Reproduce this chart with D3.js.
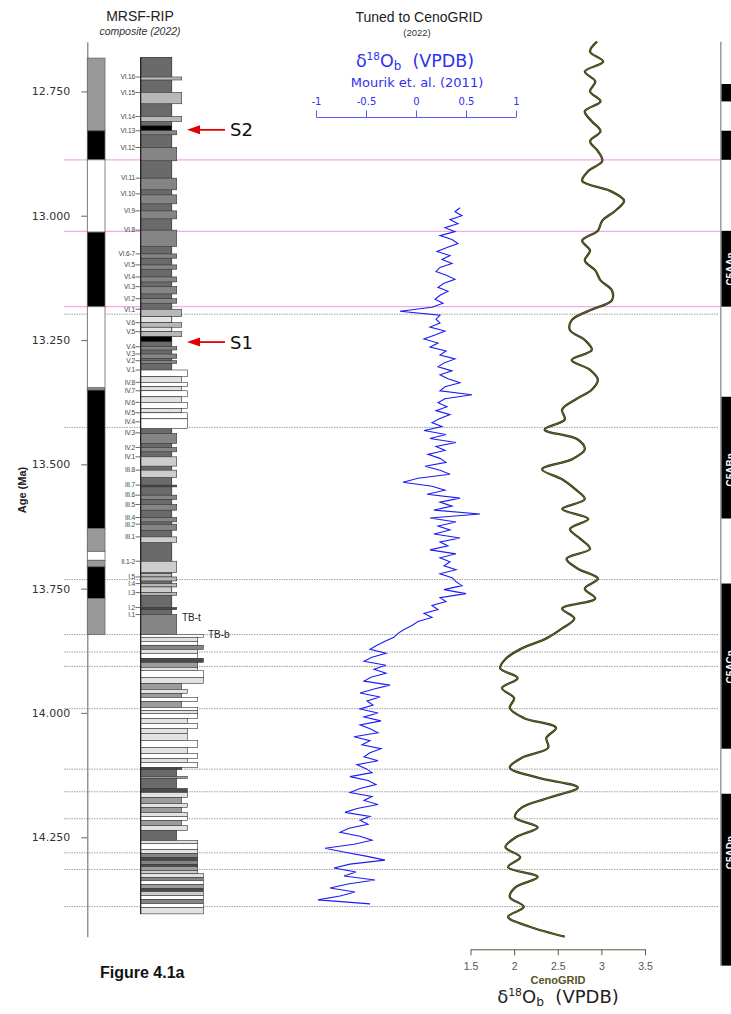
<!DOCTYPE html>
<html><head><meta charset="utf-8">
<script src="https://cdn.jsdelivr.net/npm/d3@7"></script>
<style>
body{margin:0;background:#fff}
svg{display:block}
text{font-family:"DejaVu Sans",sans-serif}
</style>
</head><body>
<svg id="chart" width="731" height="1014"></svg>
<script>
// ---------------- data ----------------
// Age axis ticks (Ma)
const ageMajorTicks = [12.75, 13.0, 13.25, 13.5, 13.75, 14.0, 14.25];

// MRSF-RIP composite magnetostratigraphy: [top, base, polarity] (n normal, r reversed, u uncertain)
const polarityZones = [
  [12.683, 12.8291, 'u'], [12.8291, 12.8875, 'n'], [12.8875, 13.0330, 'r'],
  [13.0330, 13.1830, 'n'], [13.1830, 13.3460, 'r'], [13.3460, 13.3506, 'u'],
  [13.3506, 13.6290, 'n'], [13.6290, 13.6750, 'u'], [13.6750, 13.6930, 'r'],
  [13.6930, 13.7060, 'u'], [13.7060, 13.7700, 'n'], [13.7700, 13.8424, 'u']
];

// Lithological log: marly background of the cyclic interval
const logBackground = [12.6816, 13.8424];
// Beds: [top, base, lithology code, weathering-profile class]
const beds = [
  [12.7210, 12.7270, 'L', 2], [12.7520, 12.7748, 'L', 2], [12.8003, 12.8104, 'L', 2],
  [12.8191, 12.8285, 'S', 0], [12.8291, 12.8372, 'G', 1], [12.8627, 12.8895, 'G', 1],
  [12.9244, 12.9479, 'G', 1], [12.9580, 12.9761, 'G', 1], [12.9902, 13.0063, 'G', 1],
  [13.0290, 13.0621, 'G', 1], [13.0768, 13.0854, 'G', 1], [13.0989, 13.1076, 'G', 1],
  [13.1231, 13.1331, 'G', 1], [13.1426, 13.1573, 'G', 1], [13.1668, 13.1760, 'G', 1],
  [13.1881, 13.2030, 'L', 2], [13.2030, 13.2151, 'P', 0], [13.2151, 13.2243, 'L', 2],
  [13.2243, 13.2332, 'P', 0], [13.2332, 13.2433, 'L', 2], [13.2433, 13.2533, 'S', 0],
  [13.2634, 13.2700, 'G', 1], [13.2781, 13.2868, 'G', 1], [13.2916, 13.2968, 'G', 1],
  [13.3103, 13.3238, 'W', 3], [13.3238, 13.3351, 'P', 2], [13.3351, 13.3439, 'W', 3],
  [13.3439, 13.3520, 'P', 2], [13.3520, 13.3641, 'W', 3], [13.3641, 13.3753, 'P', 2],
  [13.3753, 13.3874, 'W', 3], [13.3874, 13.3963, 'P', 2], [13.3963, 13.4084, 'W', 3],
  [13.4084, 13.4277, 'W', 3], [13.4378, 13.4579, 'G', 1], [13.4660, 13.4748, 'G', 1],
  [13.4849, 13.5036, 'C', 1], [13.5117, 13.5263, 'C', 1], [13.5418, 13.5453, 'D', 1],
  [13.5620, 13.5706, 'G', 1], [13.5807, 13.5922, 'G', 1], [13.6069, 13.6157, 'G', 1],
  [13.6204, 13.6325, 'G', 1], [13.6459, 13.6572, 'C', 1], [13.6949, 13.7176, 'C', 1],
  [13.7196, 13.7265, 'L', 0], [13.7265, 13.7345, 'L', 1], [13.7398, 13.7466, 'L', 1],
  [13.7466, 13.7579, 'C', 0], [13.7579, 13.7633, 'L', 1], [13.7880, 13.7921, 'D', 1],
  [13.8021, 13.8424, 'G', 1],
  [13.8424, 13.8478, 'W', 5], [13.8478, 13.8559, 'P', 4], [13.8559, 13.8639, 'W', 4],
  [13.8639, 13.8720, 'G', 5], [13.8720, 13.8800, 'P', 4], [13.8800, 13.8901, 'W', 4],
  [13.8901, 13.8982, 'D', 5], [13.8982, 13.9082, 'H', 4], [13.9082, 13.9143, 'P', 4],
  [13.9143, 13.9284, 'W', 5], [13.9284, 13.9405, 'P', 5], [13.9405, 13.9525, 'H', 2],
  [13.9525, 13.9606, 'P', 3], [13.9606, 13.9686, 'H', 2], [13.9686, 13.9767, 'W', 4],
  [13.9767, 13.9888, 'H', 2], [13.9888, 13.9948, 'W', 4], [13.9948, 14.0009, 'P', 4],
  [14.0009, 14.0109, 'W', 4], [14.0109, 14.0210, 'P', 3], [14.0210, 14.0311, 'W', 4],
  [14.0311, 14.0411, 'P', 3], [14.0411, 14.0552, 'P', 3], [14.0552, 14.0693, 'W', 4],
  [14.0693, 14.0814, 'P', 3], [14.0814, 14.0915, 'W', 4], [14.0915, 14.0995, 'P', 3],
  [14.0995, 14.1096, 'W', 4], [14.1096, 14.1136, 'D', 2], [14.1136, 14.1277, 'M', 1],
  [14.1277, 14.1317, 'H', 3], [14.1317, 14.1519, 'M', 1], [14.1519, 14.1599, 'D', 3],
  [14.1599, 14.1700, 'P', 3], [14.1700, 14.1821, 'H', 2], [14.1821, 14.1901, 'P', 3],
  [14.1901, 14.2002, 'H', 2], [14.2002, 14.2082, 'P', 3], [14.2082, 14.2163, 'W', 3],
  [14.2163, 14.2264, 'H', 2], [14.2264, 14.2364, 'P', 3], [14.2364, 14.2565, 'M', 1],
  [14.2565, 14.2626, 'P', 4], [14.2626, 14.2747, 'W', 4], [14.2747, 14.2827, 'P', 4],
  [14.2827, 14.2908, 'G', 4], [14.2908, 14.2968, 'D', 4], [14.2968, 14.3049, 'G', 4],
  [14.3049, 14.3089, 'D', 4], [14.3089, 14.3169, 'H', 4], [14.3169, 14.3230, 'C', 4],
  [14.3230, 14.3310, 'P', 5], [14.3310, 14.3371, 'G', 5], [14.3371, 14.3451, 'W', 5],
  [14.3451, 14.3532, 'H', 5], [14.3532, 14.3592, 'D', 5], [14.3592, 14.3673, 'C', 5],
  [14.3673, 14.3753, 'W', 5], [14.3753, 14.3834, 'G', 5], [14.3834, 14.3914, 'W', 5],
  [14.3914, 14.4041, 'P', 5]
];

// Sedimentary cycle codes and their ages
const cycleNames = ['VI.16','VI.15','VI.14','VI.13','VI.12','VI.11','VI.10','VI.9','VI.8','VI.6-7',
  'VI.5','VI.4','VI.3','VI.2','VI.1','V.6','V.5','V.4','V.3','V.2','V.1','IV.8','IV.7','IV.6',
  'IV.5','IV.4','IV.3','IV.2','IV.1','III.8','III.7','III.6','III.5','III.4','III.2','III.1',
  'II.1-2','I.5','I.4','I.3','I.2','I.1'];
const cycleAges = [12.7210, 12.7520, 12.8003, 12.8291, 12.8627, 12.9244, 12.9560, 12.9902, 13.0290, 13.0768,
  13.0989, 13.1231, 13.1426, 13.1668, 13.1881, 13.2151, 13.2332, 13.2634, 13.2781, 13.2916, 13.3103, 13.3351, 13.3520, 13.3753,
  13.3963, 13.4144, 13.4366, 13.4660, 13.4849, 13.5117, 13.5418, 13.5620, 13.5807, 13.6069, 13.6204, 13.6459,
  13.6949, 13.7265, 13.7398, 13.7579, 13.7880, 13.8021];

// Marker beds
const markerNames = ['S2', 'S1'];
const markerAges = [12.8273, 13.2541];
const boundaryNames = ['TB-t', 'TB-b'];
const boundaryAges = [13.8080, 13.8424];

// Tie lines
const pinkTieAges = [12.8875, 13.0315, 13.1829];
const dottedTieAges = [13.198, 13.4256, 13.7317, 13.8424, 13.8774, 13.9063, 13.9914,
  14.113, 14.1585, 14.2128, 14.2813, 14.3149, 14.3894];

// Benthic d18O, Mourik et al. (2011)
const mourikAge = [
  12.984,12.992,13.000,13.008,13.016,13.024,13.032,13.040,13.048,13.056,
  13.064,13.072,13.080,13.088,13.096,13.104,13.112,13.120,13.128,13.136,
  13.144,13.152,13.160,13.168,13.176,13.184,13.192,13.200,13.208,13.216,
  13.224,13.232,13.240,13.248,13.256,13.264,13.272,13.280,13.288,13.296,
  13.304,13.312,13.320,13.328,13.336,13.344,13.352,13.360,13.368,13.376,
  13.384,13.392,13.400,13.408,13.416,13.424,13.432,13.440,13.448,13.456,
  13.464,13.472,13.480,13.488,13.496,13.504,13.512,13.520,13.528,13.536,
  13.544,13.552,13.560,13.568,13.576,13.584,13.592,13.600,13.608,13.616,
  13.624,13.632,13.640,13.648,13.656,13.664,13.672,13.680,13.688,13.696,
  13.704,13.712,13.720,13.728,13.736,13.744,13.752,13.760,13.768,13.776,
  13.784,13.792,13.800,13.808,13.816,13.824,13.832,13.840,13.848,13.856,
  13.864,13.872,13.880,13.888,13.896,13.904,13.912,13.920,13.928,13.936,
  13.944,13.952,13.960,13.968,13.976,13.984,13.992,14.000,14.008,14.016,
  14.024,14.032,14.040,14.048,14.056,14.064,14.072,14.080,14.088,14.096,
  14.104,14.112,14.120,14.128,14.136,14.144,14.152,14.160,14.168,14.176,
  14.184,14.192,14.200,14.208,14.216,14.224,14.232,14.240,14.248,14.256,
  14.264,14.272,14.280,14.288,14.296,14.304,14.312,14.320,14.328,14.336,
  14.344,14.352,14.360,14.368,14.376,14.384];
const mourikD18O = [
  0.44,0.39,0.46,0.34,0.42,0.29,0.39,0.24,0.36,0.42,
  0.31,0.21,0.34,0.26,0.36,0.24,0.20,0.31,0.39,0.28,
  0.22,0.32,0.24,0.19,0.27,0.16,-0.16,0.24,0.20,0.24,
  0.14,0.29,0.19,0.08,0.22,0.14,0.30,0.24,0.39,0.28,
  0.22,0.36,0.24,0.32,0.44,0.29,0.24,0.56,0.29,0.22,
  0.31,0.20,0.34,0.24,0.16,0.26,0.08,0.30,0.14,0.40,
  0.20,0.29,0.12,0.24,0.30,0.09,0.24,0.34,0.02,-0.13,
  0.16,0.29,0.11,0.44,0.24,0.36,0.18,0.64,0.14,0.40,
  0.22,0.34,0.18,0.44,0.24,0.32,0.14,0.40,0.24,0.34,
  0.28,0.40,0.24,0.36,0.40,0.46,0.28,0.50,0.24,0.30,
  0.16,0.22,0.08,0.16,0.02,-0.04,-0.12,-0.18,-0.22,-0.31,
  -0.39,-0.46,-0.30,-0.44,-0.52,-0.30,-0.42,-0.30,-0.45,-0.52,
  -0.26,-0.42,-0.56,-0.36,-0.49,-0.43,-0.56,-0.38,-0.52,-0.35,
  -0.56,-0.46,-0.38,-0.62,-0.46,-0.54,-0.35,-0.46,-0.52,-0.38,
  -0.59,-0.50,-0.44,-0.66,-0.48,-0.40,-0.56,-0.66,-0.44,-0.52,
  -0.38,-0.59,-0.71,-0.46,-0.56,-0.48,-0.67,-0.76,-0.56,-0.44,
  -0.62,-0.91,-0.71,-0.50,-0.31,-0.66,-0.82,-0.60,-0.72,-0.41,
  -0.68,-0.86,-0.61,-0.76,-0.98,-0.46];
const mourikTicks = [-1, -0.5, 0, 0.5, 1];
const mourikMinorTicks = [-0.75, -0.25, 0.25, 0.75];

// CenoGRID benthic d18O
const cenoAge = [
  12.65,12.67,12.69,12.71,12.73,12.75,12.77,12.79,12.81,12.83,
  12.85,12.87,12.89,12.91,12.93,12.95,12.97,12.99,13.01,13.03,
  13.05,13.07,13.09,13.11,13.13,13.15,13.17,13.19,13.21,13.23,
  13.25,13.27,13.29,13.31,13.33,13.35,13.37,13.39,13.41,13.43,
  13.45,13.47,13.49,13.51,13.53,13.55,13.57,13.59,13.61,13.63,
  13.65,13.67,13.69,13.71,13.73,13.75,13.77,13.79,13.81,13.83,
  13.85,13.87,13.89,13.91,13.93,13.95,13.97,13.99,14.01,14.03,
  14.05,14.07,14.09,14.11,14.13,14.15,14.17,14.19,14.21,14.23,
  14.25,14.27,14.29,14.31,14.33,14.35,14.37,14.39,14.41,14.43,14.45];
const cenoD18O = [
  2.95,2.87,3.02,2.81,2.93,2.87,2.99,2.81,2.89,2.99,
  2.87,2.96,3.01,2.85,2.78,3.10,3.26,3.16,3.01,2.96,
  2.78,2.87,2.81,2.93,2.99,3.12,3.12,2.87,2.66,2.64,
  2.81,2.89,2.66,2.87,2.96,2.89,2.70,2.55,2.58,2.35,
  2.73,2.81,2.66,2.32,2.55,2.70,2.81,2.55,2.85,2.64,
  2.76,2.87,2.60,2.73,2.96,2.81,2.93,2.55,2.69,2.55,
  2.37,2.09,1.91,1.84,2.04,1.86,2.00,1.95,2.11,2.48,
  2.37,2.39,2.09,1.95,2.27,2.73,2.41,2.09,2.01,2.27,
  2.02,1.90,2.07,1.93,2.27,2.02,1.95,2.11,1.93,2.18,2.58];
const cenoTicks = [1.5, 2, 2.5, 3, 3.5];
const cenoMinorTicks = [1.75, 2.25, 2.75, 3.25];

// Geomagnetic polarity time scale, normal chrons: [top, base, name, label age]
const chrons = [
  [12.7351, 12.7701, '', 0], [12.8291, 12.8875, '', 0],
  [13.0304, 13.1829, 'C5AAn', 13.107], [13.3641, 13.6089, 'C5ABn', 13.511],
  [13.7397, 14.0719, 'C5ACn', 13.907], [14.1625, 14.5082, 'C5ADn', 14.281]
];

// ---------------- scales ----------------
const svg = d3.select('#chart');
const y = d3.scaleLinear().domain([12.65, 14.45]).range([41.7, 936.7]);
const xMourik = d3.scaleLinear().domain([-1, 1]).range([316, 516]);
const xCeno = d3.scaleLinear().domain([1.5, 3.5]).range([470.5, 645]);
const logLeft = 140.7;
const profileRight = d3.scaleOrdinal().domain([0, 1, 2, 3, 4, 5])
  .range([171.7, 176.7, 181.7, 187.3, 197.7, 203.3]);
const lithColor = d3.scaleOrdinal()
  .domain(['S', 'D', 'M', 'G', 'H', 'L', 'C', 'P', 'W'])
  .range(['#000000', '#4a4a4a', '#6a6a6a', '#858585', '#9c9c9c', '#b8b8b8', '#cdcdcd', '#e2e2e2', '#ffffff']);
const polColor = d3.scaleOrdinal().domain(['n', 'r', 'u']).range(['#000', '#fff', '#999']);

// ---------------- tie lines ----------------
svg.append('g').selectAll('line').data(dottedTieAges).join('line')
  .attr('x1', 64).attr('x2', 718)
  .attr('y1', d => y(d)).attr('y2', d => y(d))
  .attr('stroke', '#8a8a8a').attr('stroke-width', 0.8).attr('stroke-dasharray', '1.5,1');
svg.append('g').selectAll('line').data(pinkTieAges).join('line')
  .attr('x1', 64).attr('x2', 720)
  .attr('y1', d => y(d)).attr('y2', d => y(d))
  .attr('stroke', '#f6a9ee').attr('stroke-width', 1.2);

// ---------------- titles ----------------
svg.append('text').attr('x', 140).attr('y', 21).attr('text-anchor', 'middle')
  .style('font-family', '"Liberation Sans",Arial,sans-serif').style('font-size', '14px').attr('fill', '#222')
  .text('MRSF-RIP');
svg.append('text').attr('x', 140).attr('y', 35).attr('text-anchor', 'middle')
  .style('font-family', '"Liberation Sans",Arial,sans-serif').style('font-size', '10.5px').style('font-style', 'italic').attr('fill', '#333')
  .text('composite (2022)');
svg.append('text').attr('x', 419).attr('y', 22).attr('text-anchor', 'middle')
  .style('font-family', '"Liberation Sans",Arial,sans-serif').style('font-size', '14px').attr('fill', '#222')
  .text('Tuned to CenoGRID');
svg.append('text').attr('x', 417).attr('y', 36).attr('text-anchor', 'middle')
  .style('font-family', '"Liberation Sans",Arial,sans-serif').style('font-size', '9.5px').attr('fill', '#333')
  .text('(2022)');

function deltaLabel(sel, x, yPos, size, color) {
  const t = sel.append('text').attr('x', x).attr('y', yPos).attr('text-anchor', 'middle')
    .style('font-size', size + 'px').attr('fill', color);
  t.append('tspan').text('δ');
  t.append('tspan').attr('dy', -size * 0.38).style('font-size', (size * 0.6) + 'px').text('18');
  t.append('tspan').attr('dy', size * 0.38).text('O');
  t.append('tspan').attr('dy', size * 0.18).style('font-size', (size * 0.68) + 'px').text('b');
  t.append('tspan').attr('dy', -size * 0.18).text('\u00a0 (VPDB)');
  return t;
}
deltaLabel(svg, 415, 67, 17.5, '#3030f0');
svg.append('text').attr('x', 417).attr('y', 87).attr('text-anchor', 'middle')
  .style('font-size', '13px').attr('fill', '#3030f0').text('Mourik et. al. (2011)');

// ---------------- age axis ----------------
const ageAxis = svg.append('g').attr('transform', 'translate(87.3,0)');
ageAxis.call(d3.axisLeft(y).tickValues(d3.range(12.65, 14.451, 0.05)).tickSize(3).tickSizeOuter(0).tickFormat(''));
ageAxis.call(d3.axisLeft(y).tickValues(ageMajorTicks).tickSize(6).tickSizeOuter(0).tickPadding(11).tickFormat(d3.format('.3f')));
ageAxis.selectAll('path,line').attr('stroke', '#7a7a7a').attr('stroke-width', 1.2);
ageAxis.selectAll('text').style('font-size', '11px').attr('fill', '#333');
svg.append('text').attr('transform', 'translate(26,490) rotate(-90)').attr('text-anchor', 'middle')
  .style('font-family', '"Liberation Sans",Arial,sans-serif').style('font-size', '11px').style('font-weight', 'bold').attr('fill', '#222')
  .text('Age (Ma)');

// ---------------- polarity column ----------------
svg.append('g').selectAll('rect').data(polarityZones).join('rect')
  .attr('x', 87.3).attr('width', 17.7)
  .attr('y', d => y(d[0])).attr('height', d => y(d[1]) - y(d[0]))
  .attr('fill', d => polColor(d[2])).attr('stroke', '#666').attr('stroke-width', 0.8);

// ---------------- lithological log ----------------
const log = svg.append('g');
log.append('rect').attr('x', logLeft).attr('width', profileRight(0) - logLeft)
  .attr('y', y(logBackground[0])).attr('height', y(logBackground[1]) - y(logBackground[0]))
  .attr('fill', lithColor('M')).attr('stroke', '#333').attr('stroke-width', 0.8);
log.selectAll('rect.bed').data(beds).join('rect').attr('class', 'bed')
  .attr('x', logLeft).attr('width', d => profileRight(d[3]) - logLeft)
  .attr('y', d => y(d[0])).attr('height', d => y(d[1]) - y(d[0]))
  .attr('fill', d => lithColor(d[2])).attr('stroke', '#333').attr('stroke-width', 0.6);
log.append('line').attr('x1', logLeft).attr('x2', logLeft)
  .attr('y1', y(logBackground[0])).attr('y2', y(beds[beds.length - 1][1]))
  .attr('stroke', '#222').attr('stroke-width', 1.2);

const cyc = svg.append('g').selectAll('g').data(cycleNames).join('g')
  .attr('transform', (d, i) => `translate(0,${y(cycleAges[i])})`);
cyc.append('line').attr('x1', 135.5).attr('x2', 141).attr('stroke', '#444').attr('stroke-width', 0.8);
cyc.append('text').attr('x', 135).attr('dy', '0.35em').attr('text-anchor', 'end')
  .style('font-family', '"Liberation Sans",Arial,sans-serif').style('font-size', '6.6px').attr('fill', '#444')
  .attr('letter-spacing', '-0.2').text(d => d);

svg.append('g').selectAll('text').data(boundaryNames).join('text')
  .attr('x', (d, i) => i === 0 ? 182 : 208).attr('y', (d, i) => y(boundaryAges[i]))
  .attr('dy', '0.35em')
  .style('font-family', '"Liberation Sans",Arial,sans-serif').style('font-size', '10px').attr('fill', '#222')
  .text(d => d);

// ---------------- marker arrows ----------------
const mk = svg.append('g').selectAll('g').data(markerNames).join('g')
  .attr('transform', (d, i) => `translate(0,${y(markerAges[i])})`);
mk.append('line').attr('x1', 198).attr('x2', 225).attr('stroke', '#e30000').attr('stroke-width', 1.8);
mk.append('path').attr('d', 'M187,0L200,-4.5L200,4.5Z').attr('fill', '#e30000');
mk.append('text').attr('x', 230).attr('dy', '0.36em')
  .style('font-size', '18px').attr('fill', '#111').text(d => d);

// ---------------- Mourik d18O ----------------
const mAxis = svg.append('g').attr('transform', 'translate(0,117)');
mAxis.call(d3.axisTop(xMourik).tickValues(mourikMinorTicks).tickSize(3.5).tickSizeOuter(0).tickFormat(''));
mAxis.call(d3.axisTop(xMourik).tickValues(mourikTicks).tickSize(6.5).tickSizeOuter(0).tickPadding(6).tickFormat(d => String(d)));
mAxis.selectAll('path,line').attr('stroke', '#5a5af0').attr('stroke-width', 1);
mAxis.selectAll('text').style('font-size', '10px').attr('fill', '#3030f0');

const mourikData = mourikAge.map((a, i) => [a, mourikD18O[i]]);
svg.append('path').datum(mourikData)
  .attr('d', d3.line().x(d => xMourik(d[1])).y(d => y(d[0])))
  .attr('fill', 'none').attr('stroke', '#1c1cf5').attr('stroke-width', 1.1);

// ---------------- CenoGRID d18O ----------------
const cenoData = cenoAge.map((a, i) => [a, cenoD18O[i]]);
const cenoLine = d3.line().x(d => xCeno(d[1])).y(d => y(d[0])).curve(d3.curveCatmullRom.alpha(0.5));
svg.append('path').datum(cenoData).attr('d', cenoLine)
  .attr('fill', 'none').attr('stroke', '#33330f').attr('stroke-width', 2.3);
svg.append('path').datum(cenoData).attr('d', cenoLine)
  .attr('fill', 'none').attr('stroke', '#7c7c45').attr('stroke-width', 0.7);

const cAxis = svg.append('g').attr('transform', 'translate(0,949.3)');
cAxis.call(d3.axisBottom(xCeno).tickValues(cenoMinorTicks).tickSize(3).tickSizeOuter(0).tickFormat(''));
cAxis.call(d3.axisBottom(xCeno).tickValues(cenoTicks).tickSize(6).tickSizeOuter(0).tickPadding(7).tickFormat(d => String(d)));
cAxis.selectAll('path,line').attr('stroke', '#5b5b3c').attr('stroke-width', 1);
cAxis.selectAll('text').style('font-family', '"Liberation Sans",Arial,sans-serif').style('font-size', '10.5px').attr('fill', '#555');
svg.append('text').attr('x', 558).attr('y', 984).attr('text-anchor', 'middle')
  .style('font-family', '"Liberation Sans",Arial,sans-serif').style('font-size', '11px').style('font-weight', 'bold')
  .attr('fill', '#55552a').text('CenoGRID');
deltaLabel(svg, 558, 1003, 18, '#222');

// ---------------- GPTS column ----------------
svg.append('line').attr('x1', 720.8).attr('x2', 720.8).attr('y1', y(12.65)).attr('y2', y(14.5082))
  .attr('stroke', '#9a9a9a').attr('stroke-width', 1.5);
const ch = svg.append('g').selectAll('g').data(chrons).join('g');
ch.append('rect').attr('x', 721.5).attr('width', 14)
  .attr('y', d => y(d[0])).attr('height', d => y(d[1]) - y(d[0])).attr('fill', '#000');
ch.filter(d => d[2]).append('text')
  .attr('transform', d => `translate(733.5,${y(d[3])}) rotate(-90)`).attr('text-anchor', 'middle')
  .style('font-family', '"Liberation Sans",Arial,sans-serif').style('font-size', '10px').style('font-weight', 'bold')
  .attr('fill', '#fff').text(d => d[2]);

// ---------------- figure label ----------------
svg.append('text').attr('x', 100).attr('y', 978)
  .style('font-family', '"Liberation Sans",Arial,sans-serif').style('font-size', '16px').style('font-weight', 'bold')
  .attr('fill', '#111').text('Figure 4.1a');
</script>
</body></html>
